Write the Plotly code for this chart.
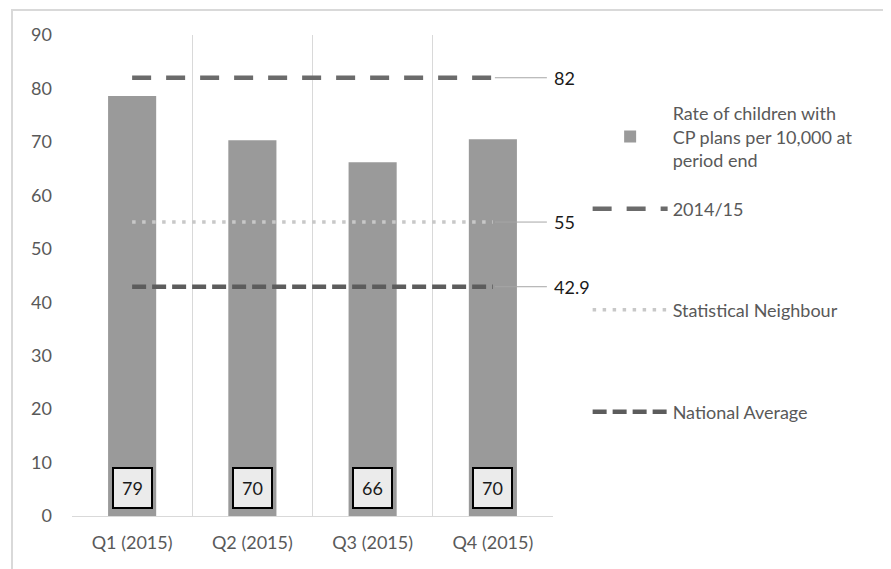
import plotly.graph_objects as go

categories = ["Q1 (2015)", "Q2 (2015)", "Q3 (2015)", "Q4 (2015)"]
rate_values = [78.6, 70.3, 66.2, 70.5]
target_2014_15 = [82, 82, 82, 82]
stat_neighbour = [55, 55, 55, 55]
national_avg = [42.9, 42.9, 42.9, 42.9]

bar_name = "Rate of children with<br>CP plans per 10,000 at<br>period end"
FONT = "Lato, 'Open Sans', sans-serif"
GREY_TXT = "#595959"

fig = go.Figure()
fig.add_trace(go.Bar(x=categories, y=rate_values, name=bar_name,
                     marker=dict(color="#9a9a9a", line=dict(width=0)),
                     width=0.4, legend="legend", hoverinfo="skip"))
fig.add_trace(go.Scatter(x=categories, y=target_2014_15, mode="lines", name="2014/15",
                         line=dict(color="#6b6b6b", width=4.5, dash="19px,15px"),
                         legend="legend2"))
fig.add_trace(go.Scatter(x=categories, y=stat_neighbour, mode="lines", name="Statistical Neighbour",
                         line=dict(color="#c8c8c8", width=3.5, dash="3.5px,6.5px"),
                         legend="legend3"))
fig.add_trace(go.Scatter(x=categories, y=national_avg, mode="lines", name="National Average",
                         line=dict(color="#5c5c5c", width=4.5, dash="14px,6px"),
                         legend="legend4"))

# end-of-line value labels with leader lines
for series in (target_2014_15, stat_neighbour, national_avg):
    v = series[-1]
    fig.add_annotation(x=categories[-1], y=v, text=f"{v:g}", showarrow=True,
                       arrowhead=0, arrowwidth=1, arrowcolor="#a6a6a6",
                       ax=54, ay=0, xanchor="left", standoff=2, borderpad=6,
                       font=dict(family=FONT, size=18, color="#1a1a1a"))

# boxed value labels at the foot of each bar
for c, v in zip(categories, rate_values):
    fig.add_annotation(x=c, y=0, yanchor="bottom", yshift=7, text=f"{v:.0f}",
                       showarrow=False, bgcolor="#ebebeb", bordercolor="#000000",
                       borderwidth=2, borderpad=8,
                       font=dict(family=FONT, size=18, color="#1a1a1a"))

# outer chart border
fig.add_shape(type="rect", xref="paper", yref="paper",
              x0=-0.1247, x1=1.72, y0=-0.14, y1=1.052,
              line=dict(color="#d9d9d9", width=2), fillcolor="rgba(0,0,0,0)", layer="below")

legend_common = dict(font=dict(family=FONT, size=18, color=GREY_TXT),
                     bgcolor="rgba(0,0,0,0)", itemwidth=75, xanchor="left",
                     x=1.072, yanchor="middle")

fig.update_layout(
    width=883, height=561,
    margin=dict(l=64, r=338, t=27, b=53),
    paper_bgcolor="white", plot_bgcolor="white",
    font=dict(family=FONT, color=GREY_TXT),
    showlegend=True,
    legend=dict(legend_common, y=0.788),
    legend2=dict(legend_common, y=0.638),
    legend3=dict(legend_common, y=0.428),
    legend4=dict(legend_common, y=0.216),
    xaxis=dict(type="category", tickson="boundaries", showgrid=True,
               gridcolor="#d9d9d9", gridwidth=1, showline=True, linecolor="#d9d9d9",
               ticks="", ticklabelstandoff=10,
               tickfont=dict(family=FONT, size=18, color=GREY_TXT),
               range=[-0.5, 3.5]),
    yaxis=dict(range=[0, 90], dtick=10, showgrid=False, zeroline=False,
               ticks="", ticklabelstandoff=19,
               tickfont=dict(family=FONT, size=18, color=GREY_TXT)),
)

fig.write_html("out.html")
